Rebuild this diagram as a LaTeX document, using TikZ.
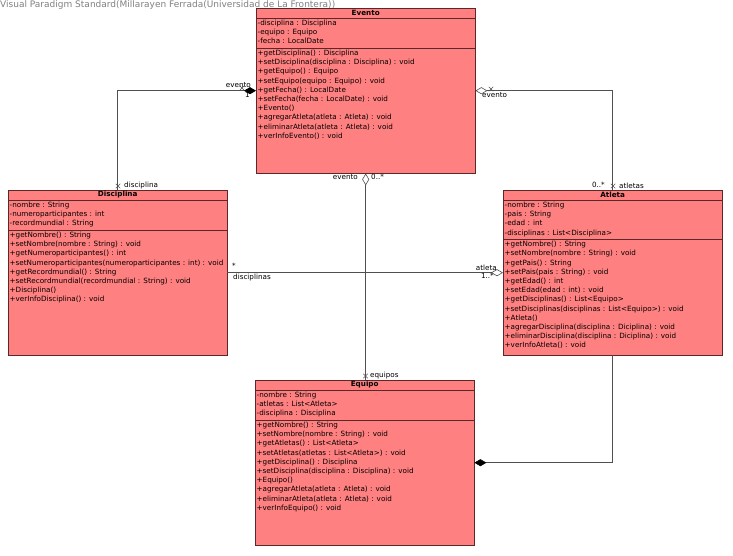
\documentclass[tikz,border=0pt]{standalone}
\usepackage{fontspec}
\newfontfamily\umlfont{DejaVu Sans}
\usepackage{tikz}
\usetikzlibrary{arrows.meta,positioning,shapes.misc}

\definecolor{clsfill}{RGB}{255,128,128}
\definecolor{clsline}{RGB}{90,40,40}
\definecolor{connline}{RGB}{80,80,80}

\begin{document}
\begin{tikzpicture}[x=1pt, y=-1pt,
    cls/.style = {draw=clsline, fill=clsfill, anchor=north west, minimum width=219pt, minimum height=165pt, inner sep=0pt},
    ttl/.style = {anchor=north, minimum height=9.5pt, inner sep=0pt, font=\umlfont\bfseries\fontsize{7.2}{9.2}\selectfont},
    members/.style = {anchor=north west, align=left, inner xsep=1.5pt, inner ysep=1pt, font=\umlfont\fontsize{7.2}{9.2}\selectfont},
    sep/.style = {draw=clsline},
    conn/.style = {draw=connline, line width=0.6pt},
    lbl/.style = {inner sep=0pt, font=\umlfont\fontsize{7.2}{8}\selectfont},
    xmark/.style = {cross out, draw=connline, minimum size=4pt, inner sep=0pt, line width=0.5pt}]
    \useasboundingbox (0,0) rectangle (733,556);

    \node[lbl, anchor=west, text=gray, font=\umlfont\fontsize{9}{10}\selectfont] (vp) at (0,5) {Visual Paradigm Standard(Millarayen Ferrada(Universidad de La Frontera))};

    % Evento
    \node[cls] (evento) at (256,8) {};
    \node[ttl] (evento-n) at (evento.north) {Evento};
    \draw[sep] (evento-n.south -| evento.west) -- (evento-n.south -| evento.east);
    \node[members] (evento-a) at (evento-n.south -| evento.west) {\strut-disciplina : Disciplina\\-equipo : Equipo\\-fecha : LocalDate\strut};
    \draw[sep] (evento-a.south -| evento.west) -- (evento-a.south -| evento.east);
    \node[members] (evento-m) at (evento-a.south -| evento.west) {\strut+getDisciplina() : Disciplina\\+setDisciplina(disciplina : Disciplina) : void\\+getEquipo() : Equipo\\+setEquipo(equipo : Equipo) : void\\+getFecha() : LocalDate\\+setFecha(fecha : LocalDate) : void\\+Evento()\\+agregarAtleta(atleta : Atleta) : void\\+eliminarAtleta(atleta : Atleta) : void\\+verInfoEvento() : void\strut};

    % Disciplina
    \node[cls] (disciplina) at (8,190) {};
    \node[ttl] (disciplina-n) at (disciplina.north) {Disciplina};
    \draw[sep] (disciplina-n.south -| disciplina.west) -- (disciplina-n.south -| disciplina.east);
    \node[members] (disciplina-a) at (disciplina-n.south -| disciplina.west) {\strut-nombre : String\\-numeroparticipantes : int\\-recordmundial : String\strut};
    \draw[sep] (disciplina-a.south -| disciplina.west) -- (disciplina-a.south -| disciplina.east);
    \node[members] (disciplina-m) at (disciplina-a.south -| disciplina.west) {\strut+getNombre() : String\\+setNombre(nombre : String) : void\\+getNumeroparticipantes() : int\\+setNumeroparticipantes(numeroparticipantes : int) : void\\+getRecordmundial() : String\\+setRecordmundial(recordmundial : String) : void\\+Disciplina()\\+verInfoDisciplina() : void\strut};

    % Atleta
    \node[cls] (atleta) at (503,190) {};
    \node[ttl] (atleta-n) at (atleta.north) {Atleta};
    \draw[sep] (atleta-n.south -| atleta.west) -- (atleta-n.south -| atleta.east);
    \node[members] (atleta-a) at (atleta-n.south -| atleta.west) {\strut-nombre : String\\-pais : String\\-edad : int\\-disciplinas : List<Disciplina>\strut};
    \draw[sep] (atleta-a.south -| atleta.west) -- (atleta-a.south -| atleta.east);
    \node[members] (atleta-m) at (atleta-a.south -| atleta.west) {\strut+getNombre() : String\\+setNombre(nombre : String) : void\\+getPais() : String\\+setPais(pais : String) : void\\+getEdad() : int\\+setEdad(edad : int) : void\\+getDisciplinas() : List<Equipo>\\+setDisciplinas(disciplinas : List<Equipo>) : void\\+Atleta()\\+agregarDisciplina(disciplina : Diciplina) : void\\+eliminarDisciplina(disciplina : Diciplina) : void\\+verInfoAtleta() : void\strut};

    % Equipo
    \node[cls] (equipo) at (255,380) {};
    \node[ttl] (equipo-n) at (equipo.north) {Equipo};
    \draw[sep] (equipo-n.south -| equipo.west) -- (equipo-n.south -| equipo.east);
    \node[members] (equipo-a) at (equipo-n.south -| equipo.west) {\strut-nombre : String\\-atletas : List<Atleta>\\-disciplina : Disciplina\strut};
    \draw[sep] (equipo-a.south -| equipo.west) -- (equipo-a.south -| equipo.east);
    \node[members] (equipo-m) at (equipo-a.south -| equipo.west) {\strut+getNombre() : String\\+setNombre(nombre : String) : void\\+getAtletas() : List<Atleta>\\+setAtletas(atletas : List<Atleta>) : void\\+getDisciplina() : Disciplina\\+setDisciplina(disciplina : Disciplina) : void\\+Equipo()\\+agregarAtleta(atleta : Atleta) : void\\+eliminarAtleta(atleta : Atleta) : void\\+verInfoEquipo() : void\strut};

    % associations
    \draw[conn, {Diamond[length=12pt, width=7pt, color=black]}-] (evento.west) -| (disciplina.north);
    \draw[conn, {Diamond[open, length=12pt, width=7pt]}-] (evento.east) -| (atleta.north);
    \draw[conn, {Diamond[open, length=12pt, width=7pt]}-] (evento.south) -- (evento.south |- equipo.north);
    \draw[conn, -{Diamond[open, length=12pt, width=7pt]}] (disciplina.east) -- (atleta.west);
    \draw[conn, -{Diamond[length=12pt, width=7pt, color=black]}] (atleta.south) |- (equipo.east);

    \node[xmark] (x1) at (118,186) {};
    \node[xmark] (x2) at (613,186) {};
    \node[xmark] (x3) at (365.5,376) {};
    \node[xmark] (x4) at (242,88) {};
    \node[xmark] (x5) at (491,89) {};

    \node[lbl, anchor=south east] (l1) at (251,88) {evento};
    \node[lbl, anchor=north east] (l2) at (250,92) {1};
    \node[lbl, anchor=west] (l3) at (124,186) {disciplina};
    \node[lbl, anchor=north west] (l4) at (482,92) {evento};
    \node[lbl, anchor=east] (l5) at (605,185) {0..*};
    \node[lbl, anchor=west] (l6) at (619,186) {atletas};
    \node[lbl, anchor=east] (l7) at (358,177) {evento};
    \node[lbl, anchor=west] (l8) at (371,177) {0..*};
    \node[lbl, anchor=west] (l9) at (370,376) {equipos};
    \node[lbl, anchor=south west] (l10) at (232,269) {*};
    \node[lbl, anchor=north west] (l11) at (233,274) {disciplinas};
    \node[lbl, anchor=south east] (l12) at (497,271) {atleta};
    \node[lbl, anchor=north east] (l13) at (494,273) {1..*};
\end{tikzpicture}
\end{document}
